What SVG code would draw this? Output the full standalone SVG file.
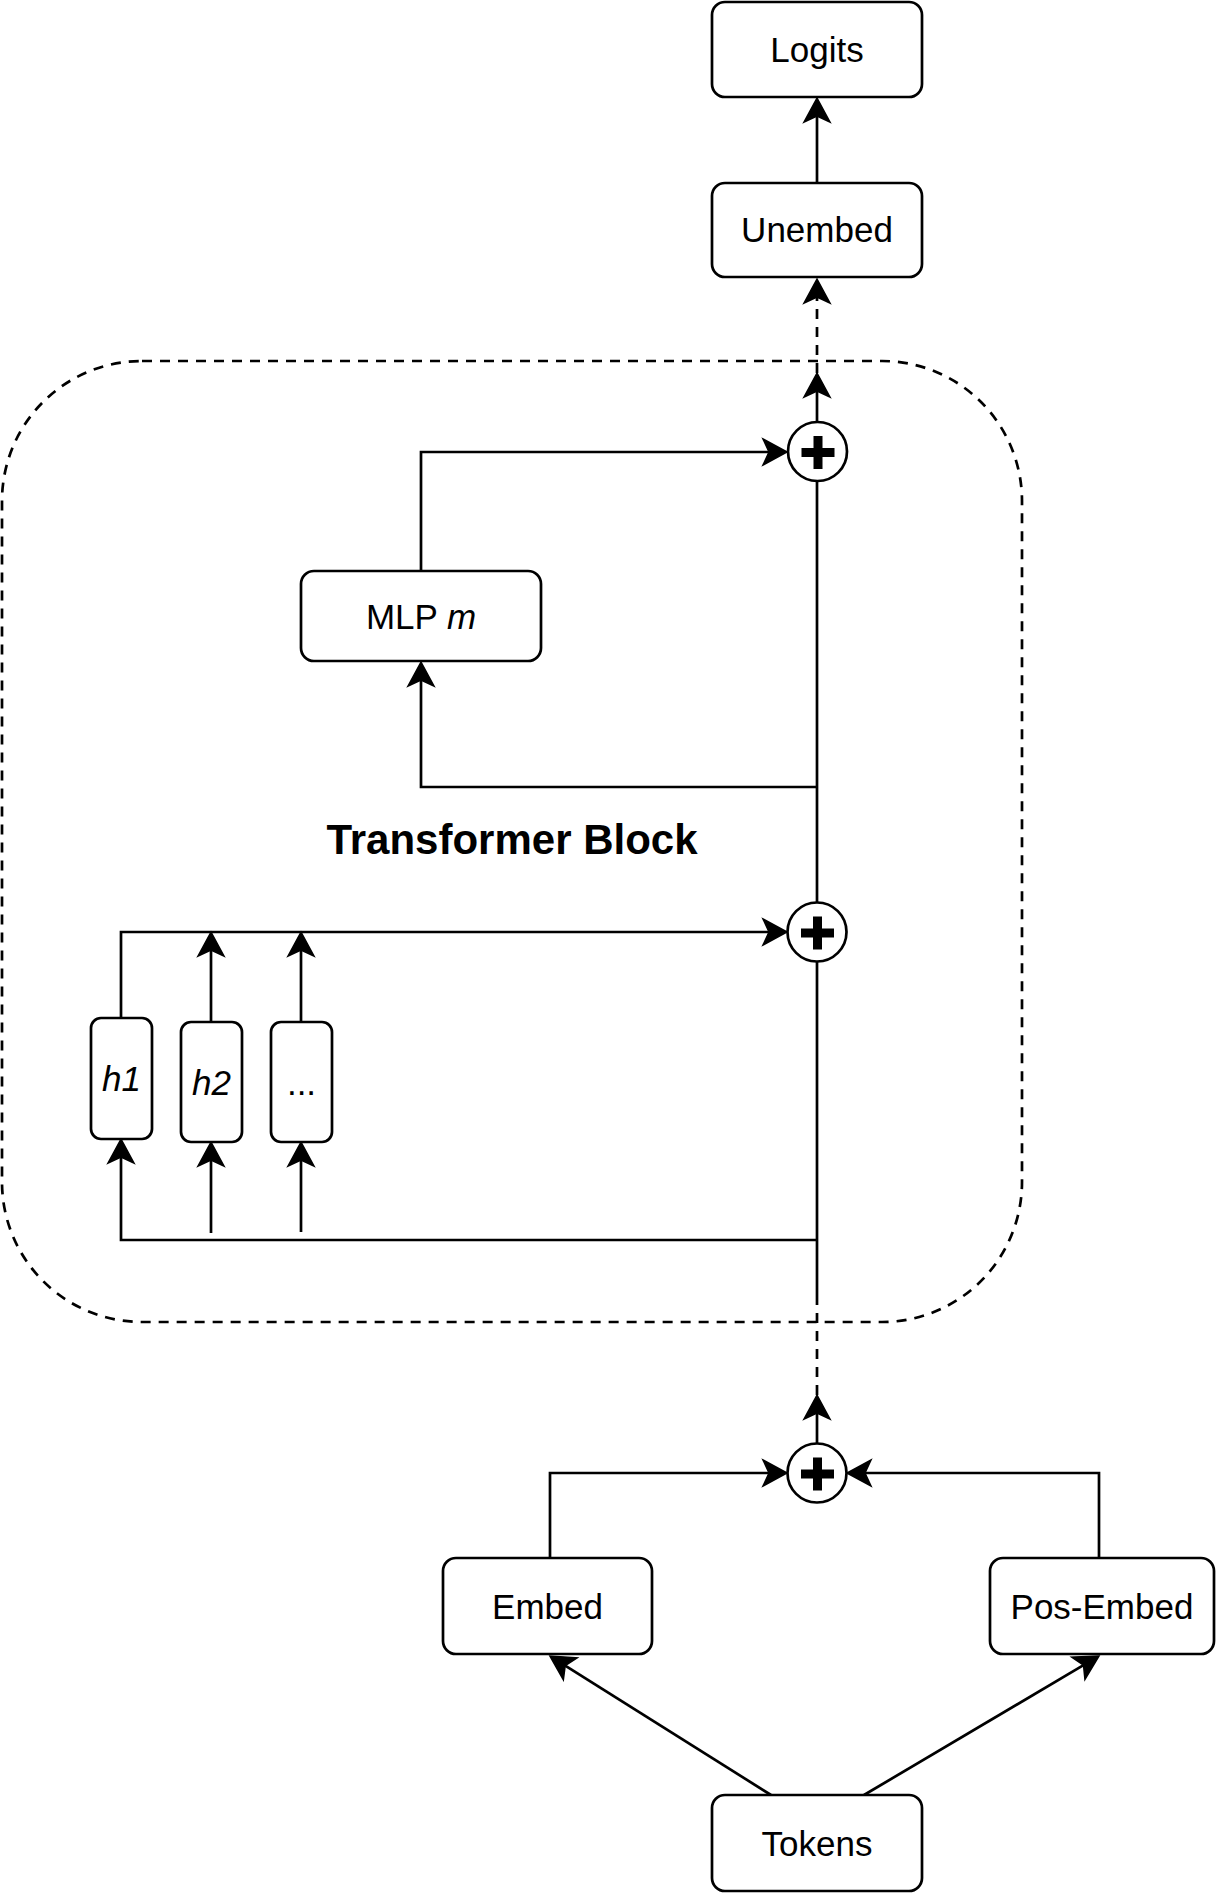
<svg xmlns="http://www.w3.org/2000/svg" width="1218" height="1896" viewBox="0 0 1218 1896">
<style>
.box{fill:#fff;stroke:#000;stroke-width:2.7}
.op{fill:#fff;stroke:#000;stroke-width:2.7}
.plus{fill:#000}
.ln{fill:none;stroke:#000;stroke-width:2.7}
.arr{marker-end:url(#ah)}
.dash{stroke-dasharray:10 8}
.t{font-family:"Liberation Sans",Arial,Helvetica,sans-serif;font-size:35px;fill:#000;text-anchor:middle}
.it{font-style:italic}
.title{font-family:"Liberation Sans",Arial,Helvetica,sans-serif;font-size:42px;font-weight:bold;fill:#000;text-anchor:middle}
</style>
<defs>
<marker id="ah" markerUnits="userSpaceOnUse" viewBox="-8 -15 28 30" refX="0" refY="0" markerWidth="28" markerHeight="30" orient="auto">
<path d="M18,0 L-6,-13 L0,0 L-6,13 Z" fill="#000" stroke="#000" stroke-width="1.5" stroke-linejoin="miter"/>
</marker>
</defs>
<rect x="2" y="361" width="1020" height="961" rx="140" ry="140" fill="none" stroke="#000" stroke-width="2.7" stroke-dasharray="10 8"/>
<g id="connectors">
<path class="ln arr" d="M817,183 V116"/>
<path class="ln arr dash" d="M817,373 V297"/>
<path class="ln arr" d="M817,421 V391"/>
<path class="ln arr" d="M421,571 V452 H769"/>
<path class="ln" d="M817,481 V902"/>
<path class="ln arr" d="M817,787 H421 V680"/>
<path class="ln arr" d="M121,1018 V932 H769"/>
<path class="ln arr" d="M211,1022 V950"/>
<path class="ln arr" d="M301,1022 V950"/>
<path class="ln" d="M817,962 V1297"/>
<path class="ln arr" d="M817,1240 H121 V1157"/>
<path class="ln arr" d="M211,1233 V1160"/>
<path class="ln arr" d="M301,1232 V1160"/>
<path class="ln dash" d="M817,1395 V1297"/>
<path class="ln arr" d="M817,1443 V1413"/>
<path class="ln arr" d="M550,1558 V1473 H769"/>
<path class="ln arr" d="M1099,1558 V1473 H865"/>
<path class="ln arr" d="M771,1795 L565.2,1665.6"/>
<path class="ln arr" d="M864,1795 L1083.5,1665.2"/>
</g>
<g id="logits"><rect class="box" x="712" y="2" width="210" height="95" rx="13"/><text class="t" x="817" y="61.5">Logits</text></g>
<g id="unembed"><rect class="box" x="712" y="183" width="210" height="94" rx="13"/><text class="t" x="817" y="242">Unembed</text></g>
<g id="add1"><circle class="op" cx="817.5" cy="451.5" r="29.5"/><rect class="plus" x="801.5" y="448" width="33" height="9"/><rect class="plus" x="813.5" y="436" width="9" height="33"/></g>
<g id="mlp"><rect class="box" x="301" y="571" width="240" height="90" rx="13"/><text class="t" x="421" y="628.5">MLP <tspan class="it">m</tspan></text></g>
<g id="block-label"><text class="title" x="512" y="854">Transformer Block</text></g>
<g id="add2"><circle class="op" cx="817" cy="932" r="29.5"/><rect class="plus" x="801" y="928.5" width="33" height="9"/><rect class="plus" x="813" y="916.5" width="9" height="33"/></g>
<g id="h1"><rect class="box" x="91" y="1018" width="61" height="121" rx="10"/><text class="t it" x="121.5" y="1091">h1</text></g>
<g id="h2"><rect class="box" x="181" y="1022" width="61" height="120" rx="10"/><text class="t it" x="211.5" y="1094.5">h2</text></g>
<g id="hdots"><rect class="box" x="271" y="1022" width="61" height="120" rx="10"/><text class="t" x="301.5" y="1094.5">...</text></g>
<g id="add3"><circle class="op" cx="817" cy="1473" r="29.5"/><rect class="plus" x="801" y="1469.5" width="33" height="9"/><rect class="plus" x="813" y="1457.5" width="9" height="33"/></g>
<g id="embed"><rect class="box" x="443" y="1558" width="209" height="96" rx="13"/><text class="t" x="547.5" y="1618.5">Embed</text></g>
<g id="posembed"><rect class="box" x="990" y="1558" width="224" height="96" rx="13"/><text class="t" x="1102" y="1618.5">Pos-Embed</text></g>
<g id="tokens"><rect class="box" x="712" y="1795" width="210" height="96" rx="13"/><text class="t" x="817" y="1855.5">Tokens</text></g>
</svg>
